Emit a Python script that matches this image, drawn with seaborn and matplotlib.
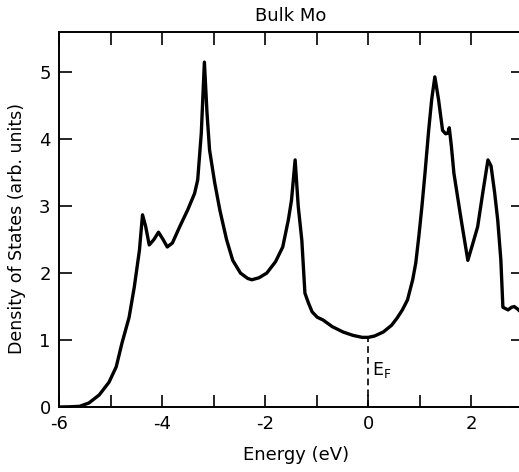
import numpy as np
import matplotlib
matplotlib.use('Agg')
import matplotlib.pyplot as plt
from matplotlib.ticker import MultipleLocator
import pandas as pd
import seaborn as sns

# density of states (energy in eV, DOS in arb. units)
energy = [-6.0, -5.8, -5.6, -5.42, -5.22, -5.03, -4.89, -4.78, -4.64, -4.54,
          -4.44, -4.38, -4.32, -4.25, -4.16, -4.07, -3.98, -3.90, -3.80, -3.66,
          -3.50, -3.37, -3.31, -3.24, -3.18, -3.13, -3.08, -2.98, -2.88, -2.75,
          -2.63, -2.48, -2.34, -2.26, -2.12, -1.97, -1.80, -1.66, -1.55, -1.49,
          -1.42, -1.36, -1.29, -1.23, -1.16, -1.09, -0.99, -0.88, -0.70, -0.49,
          -0.30, -0.12, 0.0, 0.12, 0.29, 0.45, 0.56, 0.66, 0.76, 0.86,
          0.92, 0.98, 1.04, 1.10, 1.17, 1.23, 1.29, 1.36, 1.44, 1.50,
          1.54, 1.57, 1.61, 1.66, 1.80, 1.93, 2.03, 2.12, 2.22, 2.32,
          2.38, 2.45, 2.51, 2.57, 2.61, 2.66, 2.71, 2.78, 2.83, 2.90, 2.98]
dos = [0.0, 0.003, 0.01, 0.06, 0.18, 0.37, 0.60, 0.95, 1.34, 1.79,
       2.34, 2.87, 2.70, 2.42, 2.50, 2.61, 2.50, 2.39, 2.45, 2.69,
       2.95, 3.19, 3.39, 4.09, 5.15, 4.40, 3.84, 3.35, 2.94, 2.50,
       2.19, 2.00, 1.92, 1.90, 1.93, 2.00, 2.17, 2.39, 2.80, 3.09,
       3.69, 3.00, 2.49, 1.70, 1.55, 1.42, 1.34, 1.30, 1.20, 1.12,
       1.07, 1.04, 1.04, 1.06, 1.12, 1.22, 1.33, 1.45, 1.60, 1.90,
       2.15, 2.55, 3.00, 3.50, 4.13, 4.60, 4.93, 4.60, 4.13, 4.08,
       4.09, 4.17, 3.90, 3.49, 2.80, 2.19, 2.45, 2.69, 3.20, 3.69,
       3.60, 3.20, 2.79, 2.20, 1.49, 1.47, 1.45, 1.49, 1.50, 1.46, 1.40]

xticks = [-6, -4, -2, 0, 2]
yticks = [0, 1, 2, 3, 4, 5]
e_fermi = 0.0
dos_fermi = 1.04

sns.set_theme(style='ticks')
plt.rcParams['font.family'] = ['DejaVu Sans']
plt.rcParams['axes.unicode_minus'] = False
plt.rcParams['text.color'] = 'black'
plt.rcParams['axes.labelcolor'] = 'black'
plt.rcParams['xtick.color'] = 'black'
plt.rcParams['ytick.color'] = 'black'

df = pd.DataFrame({'energy': energy, 'dos': dos})

fig = plt.figure(figsize=(5.19, 4.72), dpi=100)
ax = fig.add_axes([59 / 519, 65 / 472, 464 / 519, 375 / 472])

sns.lineplot(data=df, x='energy', y='dos', sort=False, estimator=None,
             color='black', linewidth=2.4, ax=ax)

# Fermi level marker
ax.vlines(e_fermi, 0, dos_fermi, colors='black', linewidth=1.2,
          linestyles=(0, (4, 2.5)))
ax.text(e_fermi + 0.07, 0.55, r'E$_{\mathrm{F}}$', fontsize=12.5,
        ha='left', va='center', color='black')

ax.set_xlim(-6, 3)
ax.set_ylim(0, 5.6)
ax.set_xticks(xticks)
ax.xaxis.set_minor_locator(MultipleLocator(1))
ax.set_yticks(yticks)

ax.tick_params(which='both', direction='in', length=9, width=1.2,
               top=True, right=True, labelsize=13, pad=6, colors='black')
for sp in ax.spines.values():
    sp.set_linewidth(1.4)
    sp.set_color('black')

ax.set_xlabel('Energy (eV)', fontsize=13, color='black')
ax.set_ylabel('Density of States (arb. units)', fontsize=12.5, color='black')
ax.xaxis.set_label_coords((296 - 59) / 464, -(446 - 407) / 375)
ax.yaxis.set_label_coords(-(59 - 26) / 464, (407 - 229) / 375)
ax.set_title('Bulk Mo', fontsize=13, pad=8, color='black')

fig.savefig('out.png', dpi=100)
